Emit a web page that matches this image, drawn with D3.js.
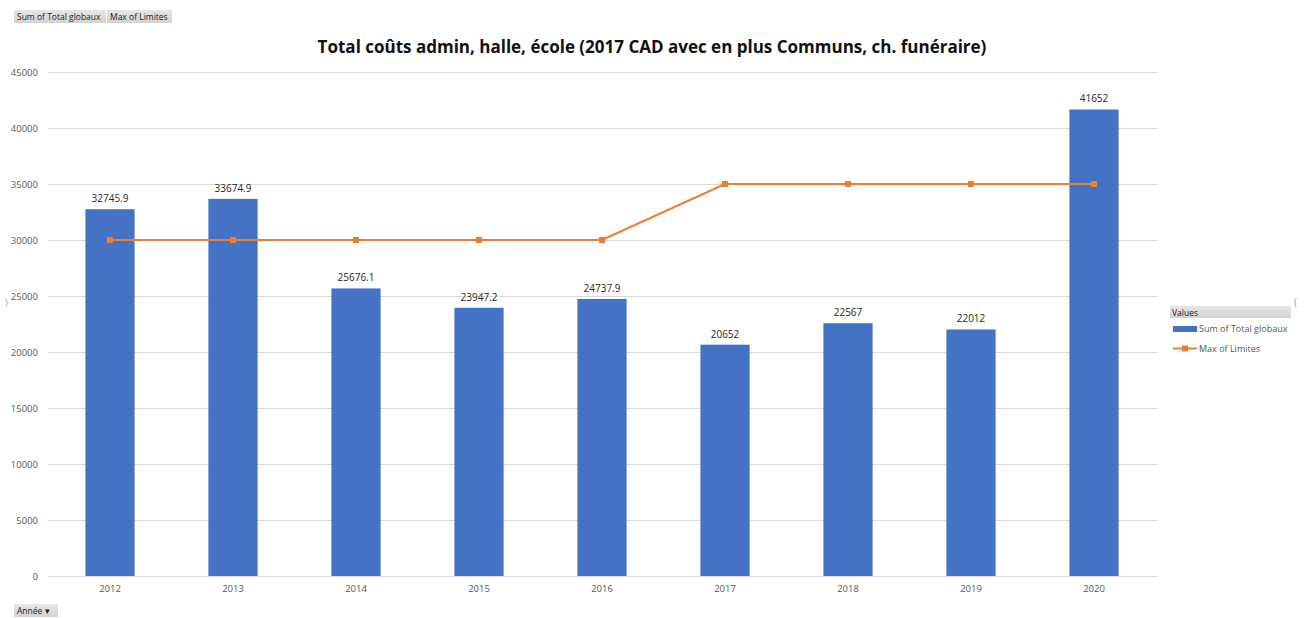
<!DOCTYPE html>
<html>
<head>
<meta charset="utf-8">
<script src="https://cdn.jsdelivr.net/npm/d3@7"></script>
<style>
  body { margin: 0; background: #fff; font-family: "Open Sans", "Noto Sans", sans-serif; }
  svg { display: block; }
</style>
</head>
<body>
<div id="chart"></div>
<script>
// chart data
const years = ["2012", "2013", "2014", "2015", "2016", "2017", "2018", "2019", "2020"];
const totalGlobaux = [32745.9, 33674.9, 25676.1, 23947.2, 24737.9, 20652, 22567, 22012, 41652];
const limites = [30000, 30000, 30000, 30000, 30000, 35000, 35000, 35000, 35000];
const yTicks = [0, 5000, 10000, 15000, 20000, 25000, 30000, 35000, 40000, 45000];

const W = 1305, H = 618;
const barColor = "#4472c4";
const lineColor = "#ed7d31";

const svg = d3.select("#chart").append("svg")
    .attr("width", W)
    .attr("height", H);

// defs for grey pivot-button gradient
const defs = svg.append("defs");
const grad = defs.append("linearGradient")
    .attr("id", "btnGrad")
    .attr("x1", 0).attr("y1", 0).attr("x2", 0).attr("y2", 1);
grad.append("stop").attr("offset", "0%").attr("stop-color", "#e6e6e6");
grad.append("stop").attr("offset", "100%").attr("stop-color", "#d2d2d2");

const x = d3.scaleBand()
    .domain(years)
    .range([48.5, 1155.5])
    .padding(0);

const y = d3.scaleLinear()
    .domain([0, 45000])
    .range([576, 72]);

// gridlines
svg.append("g")
    .selectAll("line")
    .data(yTicks)
    .join("line")
    .attr("x1", 48)
    .attr("x2", 1157)
    .attr("y1", d => Math.round(y(d)) + 0.5)
    .attr("y2", d => Math.round(y(d)) + 0.5)
    .attr("stroke", "#d9d9d9")
    .attr("stroke-width", 1);

// y axis labels
const yAxis = d3.axisLeft(y).tickValues(yTicks).tickSize(0).tickPadding(10).tickFormat(d3.format("d"));
const yAxisGroup = svg.append("g")
    .attr("transform", "translate(48,0)")
    .call(yAxis);
yAxisGroup.select(".domain").remove();
yAxisGroup.selectAll("text")
    .attr("fill", "#595959")
    .style("font-size", "9.5px")
    .style("font-family", "'Open Sans', sans-serif");

// x axis
const xAxis = d3.axisBottom(x).tickSize(0).tickPadding(9);
const xAxisGroup = svg.append("g")
    .attr("transform", "translate(0,576)")
    .call(xAxis);
xAxisGroup.select(".domain").attr("stroke", "#d9d9d9");
xAxisGroup.selectAll("text")
    .attr("fill", "#595959")
    .style("font-size", "9.5px")
    .style("font-family", "'Open Sans', sans-serif");

// bars
const barW = x.bandwidth() * 0.4;
const data = years.map((yr, i) => ({ year: yr, total: totalGlobaux[i], limit: limites[i] }));

svg.append("g")
    .selectAll("rect")
    .data(data)
    .join("rect")
    .attr("x", d => x(d.year) + x.bandwidth() / 2 - barW / 2)
    .attr("y", d => y(d.total))
    .attr("width", barW)
    .attr("height", d => y(0) - y(d.total))
    .attr("fill", barColor);

// value labels
svg.append("g")
    .selectAll("text")
    .data(data)
    .join("text")
    .attr("x", d => x(d.year) + x.bandwidth() / 2)
    .attr("y", d => y(d.total) - 7)
    .attr("text-anchor", "middle")
    .attr("fill", "#262626")
    .style("font-size", "10px")
    .text(d => d.total);

// limit line
const line = d3.line()
    .x(d => x(d.year) + x.bandwidth() / 2)
    .y(d => y(d.limit));

svg.append("path")
    .datum(data)
    .attr("d", line)
    .attr("fill", "none")
    .attr("stroke", lineColor)
    .attr("stroke-width", 2.2);

svg.append("g")
    .selectAll("rect")
    .data(data)
    .join("rect")
    .attr("x", d => x(d.year) + x.bandwidth() / 2 - 3)
    .attr("y", d => y(d.limit) - 3)
    .attr("width", 6)
    .attr("height", 6)
    .attr("fill", lineColor);

// title
svg.append("text")
    .attr("x", 652)
    .attr("y", 53)
    .attr("text-anchor", "middle")
    .attr("fill", "#111")
    .style("font-size", "17px")
    .style("font-weight", "bold")
    .text("Total coûts admin, halle, école (2017 CAD avec en plus Communs, ch. funéraire)");

// pivot field buttons (top)
const buttons = [
    { label: "Sum of Total globaux", x: 14, w: 92 },
    { label: "Max of Limites", x: 107, w: 65 }
];
const btn = svg.append("g").selectAll("g")
    .data(buttons)
    .join("g");
btn.append("rect")
    .attr("x", d => d.x)
    .attr("y", 10)
    .attr("width", d => d.w)
    .attr("height", 13)
    .attr("fill", "url(#btnGrad)");
btn.append("text")
    .attr("x", d => d.x + 3)
    .attr("y", 20)
    .attr("fill", "#222")
    .style("font-size", "8.5px")
    .text(d => d.label);

// Année button (bottom)
svg.append("rect")
    .attr("x", 14)
    .attr("y", 604)
    .attr("width", 44)
    .attr("height", 13)
    .attr("fill", "url(#btnGrad)");
svg.append("text")
    .attr("x", 17)
    .attr("y", 614)
    .attr("fill", "#222")
    .style("font-size", "8.5px")
    .text("Année ▾");

// stray axis-title fragments at the edges
svg.append("text")
    .attr("x", 5)
    .attr("y", 306)
    .attr("fill", "#999")
    .style("font-size", "9px")
    .text(")");
svg.append("text")
    .attr("x", 1294)
    .attr("y", 306)
    .attr("fill", "#999")
    .style("font-size", "10px")
    .text("(");

// legend
const legend = svg.append("g");
legend.append("rect")
    .attr("x", 1170)
    .attr("y", 306)
    .attr("width", 121)
    .attr("height", 12)
    .attr("fill", "url(#btnGrad)");
legend.append("text")
    .attr("x", 1172)
    .attr("y", 315.5)
    .attr("fill", "#222")
    .style("font-size", "8.5px")
    .text("Values");

legend.append("rect")
    .attr("x", 1173)
    .attr("y", 326)
    .attr("width", 24)
    .attr("height", 6)
    .attr("fill", barColor);
legend.append("text")
    .attr("x", 1199)
    .attr("y", 332)
    .attr("fill", "#595959")
    .style("font-size", "9px")
    .text("Sum of Total globaux");

legend.append("line")
    .attr("x1", 1173)
    .attr("x2", 1197)
    .attr("y1", 348.5)
    .attr("y2", 348.5)
    .attr("stroke", lineColor)
    .attr("stroke-width", 2);
legend.append("rect")
    .attr("x", 1182)
    .attr("y", 345.5)
    .attr("width", 6)
    .attr("height", 6)
    .attr("fill", lineColor);
legend.append("text")
    .attr("x", 1199)
    .attr("y", 352)
    .attr("fill", "#595959")
    .style("font-size", "9px")
    .text("Max of Limites");
</script>
</body>
</html>
